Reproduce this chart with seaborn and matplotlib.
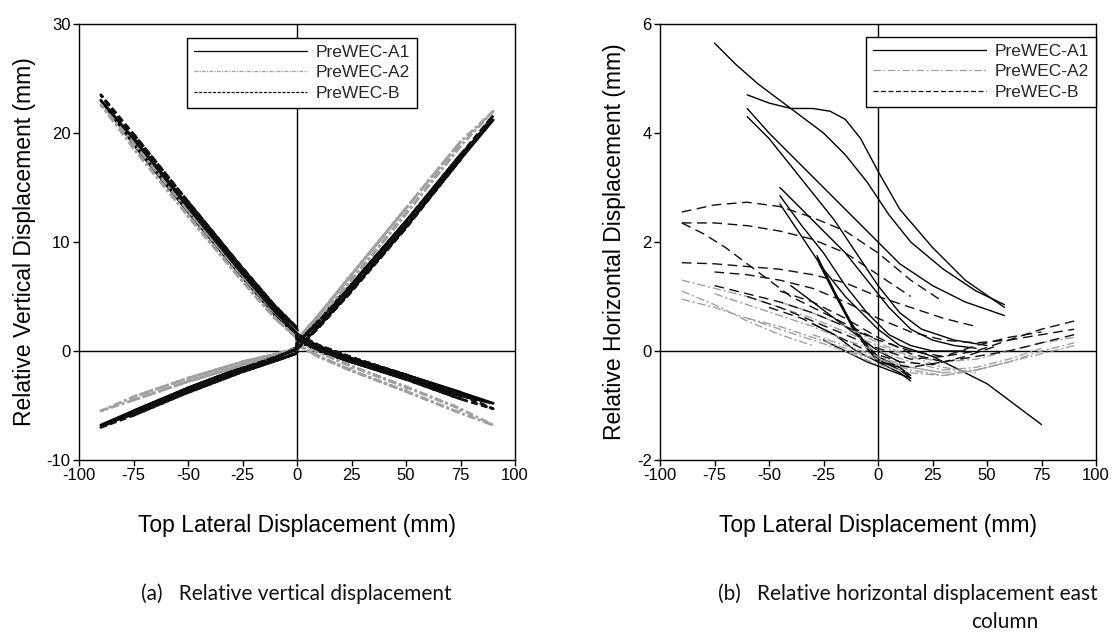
import numpy as np
import pandas as pd
import matplotlib
matplotlib.use("Agg")
import matplotlib.pyplot as plt
from matplotlib.lines import Line2D
import seaborn as sns

sns.set_theme(style="white")
plt.rcParams["font.family"] = ["Liberation Sans", "DejaVu Sans"]
plt.rcParams["axes.unicode_minus"] = False

SERIES = ["PreWEC-A1", "PreWEC-A2", "PreWEC-B"]
COLORS = {"PreWEC-A1": "#000000", "PreWEC-A2": "#a0a0a0", "PreWEC-B": "#101010"}

# ---------------- Panel (a): relative vertical displacement ----------------
POS_X = [0, 10, 25, 50, 75, 90]
NEG_X = [0, -10, -25, -50, -75, -90]
AMPLITUDES = [10, 25, 50, 75, 90]

# sensor 1 (upper-left / lower-right), sensor 2 (lower-left / upper-right)
A1_UL_LOAD = [1.4, 3.3, 6.8, 12.8, 19.0, 23.0]
A1_UL_UNLOAD = [1.9, 3.9, 7.3, 13.3, 19.5, 23.0]
A1_LR_LOAD = [1.4, 0.4, -0.7, -2.2, -3.8, -4.8]
A1_LR_UNLOAD = [1.0, 0.0, -1.0, -2.5, -4.1, -4.8]
A1_UR_LOAD = [0.3, 2.3, 5.6, 11.4, 17.6, 21.2]
A1_UR_UNLOAD = [0.8, 2.8, 6.1, 11.9, 18.0, 21.2]
A1_LL_LOAD = [0.3, -0.5, -1.5, -3.4, -5.5, -6.8]
A1_LL_UNLOAD = [-0.1, -0.8, -1.8, -3.7, -5.8, -6.8]

A2_UL_LOAD = [1.2, 3.0, 6.4, 12.4, 18.6, 22.6]
A2_UL_UNLOAD = [1.7, 3.5, 6.9, 12.9, 19.1, 22.6]
A2_LR_LOAD = [1.0, -0.1, -1.4, -3.3, -5.3, -6.8]
A2_LR_UNLOAD = [0.6, -0.5, -1.8, -3.7, -5.7, -6.8]
A2_UR_LOAD = [0.5, 2.8, 6.5, 12.6, 18.8, 22.0]
A2_UR_UNLOAD = [1.0, 3.3, 7.0, 13.1, 19.2, 22.0]
A2_LL_LOAD = [0.2, -0.3, -1.0, -2.5, -4.2, -5.5]
A2_LL_UNLOAD = [-0.2, -0.6, -1.3, -2.8, -4.5, -5.5]

B_UL_LOAD = [1.6, 3.6, 7.1, 13.2, 19.5, 23.5]
B_UL_UNLOAD = [2.1, 4.1, 7.6, 13.7, 19.9, 23.5]
B_LR_LOAD = [1.5, 0.5, -0.6, -2.2, -4.0, -5.3]
B_LR_UNLOAD = [1.1, 0.1, -1.0, -2.6, -4.4, -5.3]
B_UR_LOAD = [0.2, 2.2, 5.5, 11.3, 17.6, 21.6]
B_UR_UNLOAD = [0.7, 2.7, 6.0, 11.8, 18.0, 21.6]
B_LL_LOAD = [0.2, -0.6, -1.6, -3.5, -5.6, -7.0]
B_LL_UNLOAD = [-0.2, -0.9, -1.9, -3.8, -5.9, -7.0]

PANEL_A = {
    "PreWEC-A1": [(A1_LR_LOAD, A1_LR_UNLOAD, A1_UL_LOAD, A1_UL_UNLOAD),
                  (A1_UR_LOAD, A1_UR_UNLOAD, A1_LL_LOAD, A1_LL_UNLOAD)],
    "PreWEC-A2": [(A2_LR_LOAD, A2_LR_UNLOAD, A2_UL_LOAD, A2_UL_UNLOAD),
                  (A2_UR_LOAD, A2_UR_UNLOAD, A2_LL_LOAD, A2_LL_UNLOAD)],
    "PreWEC-B": [(B_LR_LOAD, B_LR_UNLOAD, B_UL_LOAD, B_UL_UNLOAD),
                 (B_UR_LOAD, B_UR_UNLOAD, B_LL_LOAD, B_LL_UNLOAD)],
}


def build_panel_a():
    rows = []
    seg = 0
    for name in SERIES:
        for (pl, pu, nl, nu) in PANEL_A[name]:
            for amp in AMPLITUDES:
                k = POS_X.index(amp) + 1
                xs = (POS_X[:k] + POS_X[:k][::-1] + NEG_X[:k] + NEG_X[:k][::-1])
                ys = (pl[:k] + pu[:k][::-1] + nl[:k] + nu[:k][::-1])
                for o, (x, y) in enumerate(zip(xs, ys)):
                    rows.append((name, seg, o, x, y))
                seg += 1
    return pd.DataFrame(rows, columns=["series", "seg", "order", "x", "y"])


# ---------------- Panel (b): relative horizontal displacement ----------------
B_A1 = [
    ([-75, -65, -55, -45, -35, -25, -15, -5, 5, 15, 30, 45, 58],
     [5.65, 5.25, 4.9, 4.6, 4.3, 4.0, 3.6, 3.1, 2.5, 2.0, 1.5, 1.1, 0.85]),
    ([-60, -50, -40, -30, -22, -15, -8, 0, 10, 25, 40, 58],
     [4.7, 4.55, 4.45, 4.45, 4.4, 4.25, 3.9, 3.3, 2.6, 1.9, 1.3, 0.8]),
    ([-60, -50, -40, -30, -20, -10, 0, 10, 25, 40, 58],
     [4.45, 4.0, 3.6, 3.2, 2.8, 2.4, 2.0, 1.6, 1.2, 0.9, 0.65]),
    ([-60, -50, -40, -30, -20, -10, 0, 10, 20, 35, 50],
     [4.3, 3.9, 3.4, 2.9, 2.4, 1.8, 1.2, 0.7, 0.4, 0.2, 0.1]),
    ([-45, -35, -25, -15, -5, 5, 15, 25, 35, 45],
     [3.0, 2.6, 2.2, 1.8, 1.3, 0.8, 0.4, 0.2, 0.1, 0.05]),
    ([-45, -35, -25, -15, -5, 5, 15, 25, 40],
     [2.85, 2.3, 1.8, 1.2, 0.7, 0.3, 0.1, 0.0, 0.0]),
    ([-45, -35, -25, -15, -5, 0, 10, 25, 50, 75],
     [2.7, 2.1, 1.5, 1.0, 0.6, 0.4, 0.1, -0.1, -0.6, -1.35]),
    ([-28, -20, -12, -5, 0, 10, 15],
     [1.75, 1.1, 0.5, 0.1, -0.1, -0.3, -0.45]),
    ([-28, -20, -12, -5, 0, 10, 15],
     [1.7, 1.05, 0.45, 0.05, -0.15, -0.35, -0.5]),
    ([-27, -19, -11, -4, 0, 10, 15],
     [1.6, 1.0, 0.4, 0.0, -0.2, -0.4, -0.55]),
    ([-30, -20, -10, 0, 10, 15],
     [0.5, 0.3, 0.0, -0.2, -0.3, -0.5]),
    ([-25, -15, -5, 5, 15],
     [0.2, 0.0, -0.2, -0.35, -0.5]),
    ([-40, -30, -20, -10, 0, 10],
     [1.2, 0.9, 0.6, 0.3, 0.0, -0.2]),
]

B_A2 = [
    ([-90, -75, -60, -45, -30, -15, 0, 15, 30, 45, 60, 75, 90],
     [1.3, 1.15, 1.0, 0.8, 0.6, 0.35, 0.1, -0.1, -0.2, -0.15, 0.0, 0.15, 0.25]),
    ([-90, -75, -60, -45, -30, -15, 0, 15, 30, 45, 60, 75, 90],
     [0.95, 0.8, 0.6, 0.4, 0.2, 0.0, -0.15, -0.3, -0.4, -0.35, -0.2, 0.0, 0.15]),
    ([-75, -60, -45, -30, -15, 0, 15, 30, 45, 60, 75],
     [1.05, 0.85, 0.65, 0.45, 0.2, 0.0, -0.2, -0.35, -0.3, -0.15, 0.05]),
    ([-60, -45, -30, -15, 0, 15, 30, 45, 60],
     [0.6, 0.45, 0.25, 0.05, -0.15, -0.35, -0.45, -0.35, -0.2]),
    ([-45, -30, -15, 0, 15, 30, 45],
     [0.9, 0.7, 0.45, 0.15, -0.1, -0.3, -0.4]),
    ([-30, -15, 0, 15, 30],
     [0.3, 0.1, -0.1, -0.3, -0.4]),
    ([90, 75, 60, 45, 30, 15, 0, -15],
     [0.1, -0.05, -0.2, -0.35, -0.45, -0.4, -0.25, 0.0]),
    ([-90, -75, -60, -45, -30],
     [1.1, 0.85, 0.55, 0.3, 0.1]),
]

B_B = [
    ([-90, -75, -60, -45, -30, -15, 0, 15, 30],
     [2.55, 2.68, 2.73, 2.65, 2.45, 2.2, 1.8, 1.3, 0.9]),
    ([-90, -75, -60, -45, -30, -15, 0, 15],
     [2.35, 2.35, 2.3, 2.2, 2.05, 1.8, 1.4, 1.0]),
    ([-90, -80, -70, -60, -50, -40, -30, -20, -10, 0],
     [2.35, 2.15, 1.9, 1.6, 1.3, 1.0, 0.8, 0.6, 0.4, 0.2]),
    ([-90, -75, -60, -45, -30, -15, 0, 15, 30, 45],
     [1.62, 1.6, 1.55, 1.5, 1.4, 1.25, 1.0, 0.8, 0.6, 0.45]),
    ([-75, -60, -45, -30, -15, 0, 15, 30, 45, 60, 75, 90],
     [1.45, 1.4, 1.3, 1.15, 0.9, 0.6, 0.35, 0.2, 0.15, 0.2, 0.3, 0.4]),
    ([-75, -60, -45, -30, -15, 0, 15, 30, 45, 60, 75, 90],
     [1.2, 1.05, 0.9, 0.7, 0.45, 0.2, 0.0, -0.1, 0.0, 0.2, 0.4, 0.55]),
    ([-60, -45, -30, -15, 0, 15, 30, 45, 60, 75],
     [1.0, 0.8, 0.55, 0.3, 0.05, -0.15, -0.1, 0.1, 0.25, 0.35]),
    ([-50, -35, -20, -5, 10, 25, 40, 55],
     [0.8, 0.6, 0.3, 0.0, -0.2, -0.25, -0.1, 0.1]),
    ([90, 75, 60, 45, 30, 15, 0],
     [0.3, 0.15, 0.0, -0.1, -0.2, -0.3, -0.2]),
    ([-45, -30, -15, 0, 15, 30],
     [1.1, 0.9, 0.6, 0.25, -0.05, -0.2]),
]

PANEL_B = {"PreWEC-A1": B_A1, "PreWEC-A2": B_A2, "PreWEC-B": B_B}


def build_panel_b():
    rows = []
    seg = 0
    for name in SERIES:
        for xs, ys in PANEL_B[name]:
            for o, (x, y) in enumerate(zip(xs, ys)):
                rows.append((name, seg, o, x, y))
            seg += 1
    return pd.DataFrame(rows, columns=["series", "seg", "order", "x", "y"])


df_a = build_panel_a()
df_b = build_panel_b()

fig = plt.figure(figsize=(11.17, 6.33), dpi=100)
ax1 = fig.add_axes([79 / 1117, 1 - 460 / 633, 436 / 1117, 436 / 633])
ax2 = fig.add_axes([660 / 1117, 1 - 460 / 633, 436 / 1117, 436 / 633])

dashes_a = {"PreWEC-A1": "", "PreWEC-A2": (3, 1, 1, 1), "PreWEC-B": (2.5, 1.2)}
dashes_b = {"PreWEC-A1": "", "PreWEC-A2": (6, 2, 1.5, 2), "PreWEC-B": (7, 4)}

sns.lineplot(data=df_a, x="x", y="y", hue="series", style="series", units="seg",
             estimator=None, sort=False, palette=COLORS, dashes=dashes_a,
             hue_order=SERIES, style_order=SERIES, linewidth=2.0, ax=ax1, legend=False)
sns.lineplot(data=df_b, x="x", y="y", hue="series", style="series", units="seg",
             estimator=None, sort=False, palette=COLORS, dashes=dashes_b,
             hue_order=SERIES, style_order=SERIES, linewidth=1.0, ax=ax2, legend=False)


def style_axis(ax, ylim, yticks, ylabel, leg_dashes, leg_loc, leg_anchor):
    ax.set_xlim(-100, 100)
    ax.set_ylim(*ylim)
    ax.set_xticks([-100, -75, -50, -25, 0, 25, 50, 75, 100])
    ax.set_yticks(yticks)
    ax.axhline(0, color="black", lw=1.0, zorder=0)
    ax.axvline(0, color="black", lw=1.0, zorder=0)
    for s in ax.spines.values():
        s.set_color("black")
        s.set_linewidth(1.0)
    ax.tick_params(axis="both", which="both", direction="out", length=4, width=1,
                   color="black", labelsize=12, labelcolor="black", pad=2,
                   left=True, bottom=True)
    ax.set_xlabel("Top Lateral Displacement (mm)", fontsize=16.5, labelpad=22, color="black")
    ax.set_ylabel(ylabel, fontsize=16.5, labelpad=8, color="black")
    ax.grid(False)
    handles = []
    for name in SERIES:
        d = leg_dashes[name]
        ln = Line2D([0], [0], color=COLORS[name], lw=0.9)
        if d:
            ln.set_dashes(d)
        handles.append(ln)
    leg = ax.legend(handles, SERIES, loc=leg_loc, bbox_to_anchor=leg_anchor,
                    frameon=True, fancybox=False, framealpha=1, edgecolor="black",
                    fontsize=12.5, handlelength=6.5, handletextpad=0.5,
                    labelspacing=0.3, borderpad=0.4, borderaxespad=0)
    leg.get_frame().set_linewidth(1.0)


style_axis(ax1, (-10, 30), [-10, 0, 10, 20, 30], "Relative Vertical Displacement (mm)",
           {"PreWEC-A1": "", "PreWEC-A2": (3, 1, 1, 1), "PreWEC-B": (2.5, 1.2)},
           "upper left", ((187 - 79) / 436, 1 - (38 - 24) / 436))
style_axis(ax2, (-2, 6), [-2, 0, 2, 4, 6], "Relative Horizontal Displacement (mm)",
           {"PreWEC-A1": "", "PreWEC-A2": (6, 2, 1.5, 2), "PreWEC-B": (4, 2)},
           "upper left", ((866 - 660) / 436, 1 - (37 - 24) / 436))

cap_font = ["Lato", "DejaVu Sans"]
fig.text(296 / 1117, 1 - 594 / 633, "(a)   Relative vertical displacement",
         ha="center", va="center", fontsize=15, family=cap_font, color="#111111")
fig.text(718 / 1117, 1 - 594 / 633, "(b)   Relative horizontal displacement east",
         ha="left", va="center", fontsize=15, family=cap_font, color="#111111")
fig.text(1005 / 1117, 1 - 622 / 633, "column",
         ha="center", va="center", fontsize=15, family=cap_font, color="#111111")

fig.savefig("out.png", dpi=100)
